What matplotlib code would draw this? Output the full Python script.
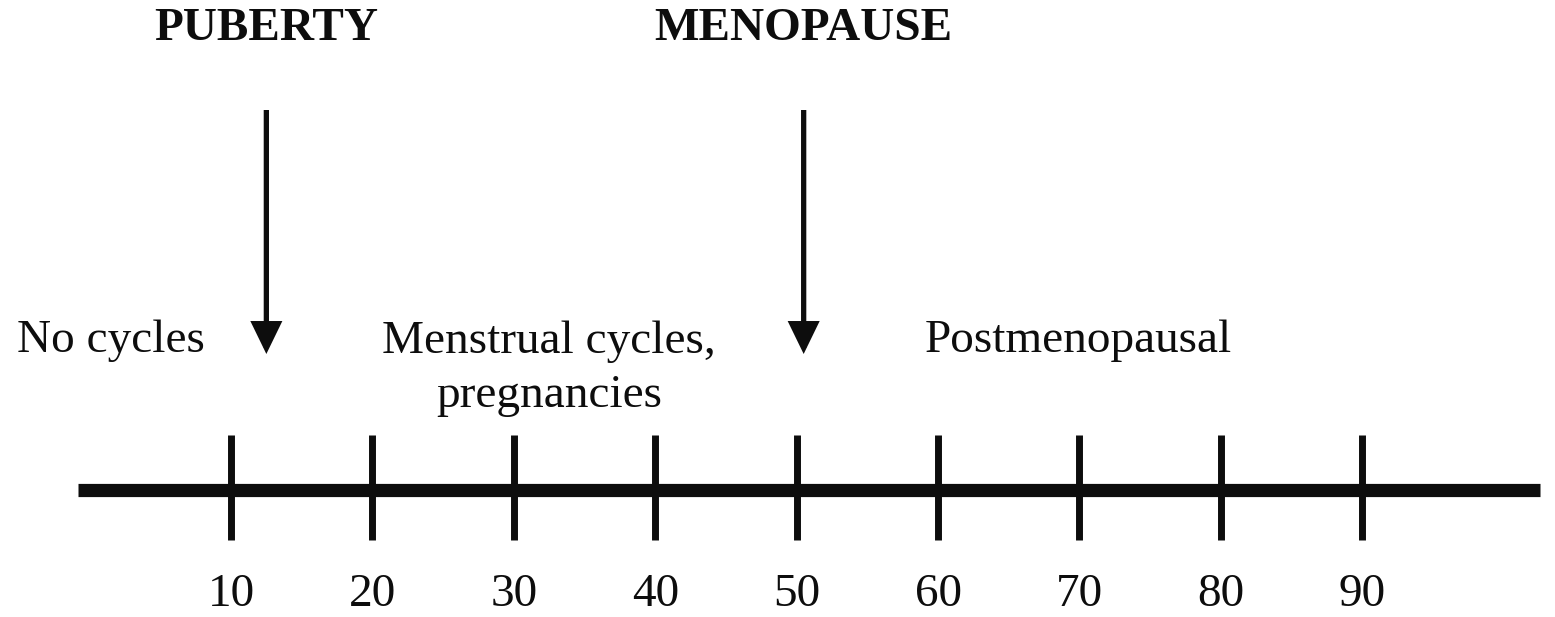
import matplotlib
matplotlib.use("Agg")
import matplotlib.pyplot as plt

ages = [10, 20, 30, 40, 50, 60, 70, 80, 90]
tick_labels = ["10", "20", "30", "40", "50", "60", "70", "80", "90"]
event_names = ["PUBERTY", "MENOPAUSE"]
event_ages = [12.5, 50.5]
phase_names = ["No cycles", "Menstrual cycles,\npregnancies", "Postmenopausal"]
phase_ages = [1.5, 32.5, 69.9]
line_start, line_end = -0.82, 102.6

plt.rcParams['font.family'] = ['Liberation Serif', 'DejaVu Serif']

fig = plt.figure(figsize=(15.55, 6.17), dpi=100)
ax = fig.add_axes([0, 0, 1, 1])
ax.set_xlim(10 - 231 / 14.14, 10 + (1555 - 231) / 14.14)
ax.set_ylim(617, 0)
ax.axis('off')

ink = '#0d0d0d'
fs = 34

# main timeline
ax.plot([line_start, line_end], [490, 490], color=ink, lw=9.5, solid_capstyle='butt')
for a, lab in zip(ages, tick_labels):
    ax.plot([a, a], [435, 540], color=ink, lw=5, solid_capstyle='butt')
    ax.text(a, 595, lab, ha='center', va='center', fontsize=fs, color=ink)

# events
for name, a in zip(event_names, event_ages):
    ax.annotate('', xy=(a, 354), xytext=(a, 110),
                arrowprops=dict(arrowstyle='-|>,head_length=1.75,head_width=0.85',
                                lw=3.8, color=ink, shrinkA=0, shrinkB=0,
                                capstyle='butt', joinstyle='miter'))
    ax.text(a, 29, name, ha='center', va='center', fontsize=fs,
            fontweight='bold', color=ink)

# phases
ax.text(phase_ages[0], 341, phase_names[0], ha='center', va='center', fontsize=fs, color=ink)
ax.text(phase_ages[1], 369, phase_names[1], ha='center', va='center', fontsize=fs,
        color=ink, linespacing=1.36, multialignment='center')
ax.text(phase_ages[2], 341, phase_names[2], ha='center', va='center', fontsize=fs, color=ink)

fig.savefig('out.png', dpi=100)
